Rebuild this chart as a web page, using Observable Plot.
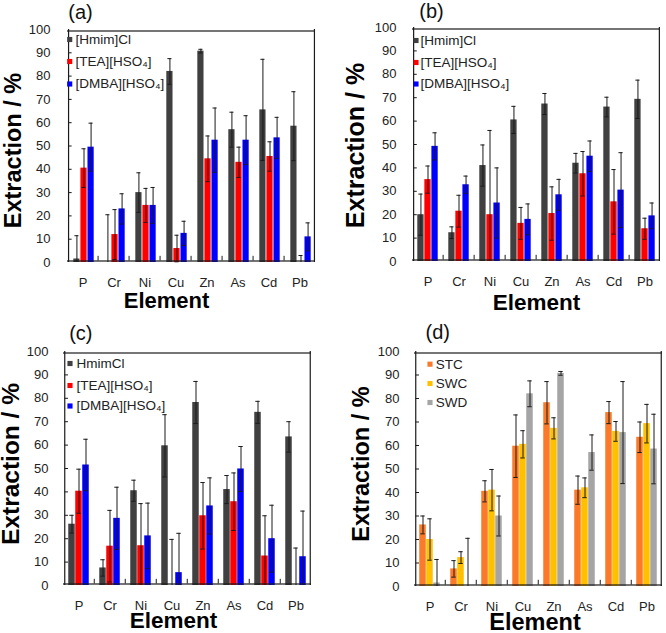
<!DOCTYPE html>
<html><head><meta charset="utf-8">
<script src="https://cdn.jsdelivr.net/npm/d3@7"></script>
<script src="https://cdn.jsdelivr.net/npm/@observablehq/plot@0.6"></script>
<style>
body{margin:0;background:#fff;}
#root{position:relative;width:666px;height:633px;overflow:hidden;font-family:"Liberation Sans",Arial,sans-serif;}
.panel{position:absolute;}
</style>
</head><body><div id="root"></div>
<script>
const elements = ["P","Cr","Ni","Cu","Zn","As","Cd","Pb"];
const yTicks = [0,10,20,30,40,50,60,70,80,90,100];
const yDomain = [0,100];

const ilSeries = ["[Hmim]Cl","[TEA][HSO₄]","[DMBA][HSO₄]"];
const ilSeriesC = ["HmimCl","[TEA][HSO₄]","[DMBA][HSO₄]"];
const soilSeries = ["STC","SWC","SWD"];
const ilColors = ["#404040","#ff0000","#0000ff"];
const soilColors = ["#fb7a2a","#ffc000","#a5a5a5"];

// (a)
const aHmim = [1.5,0,30,82,90.7,57,65.5,58.5];
const aHmimErr = [10,20.5,8.5,5.5,0.8,7.5,21.7,14.8];
const aTea = [40.5,12,24.5,6,44.5,43,45.5,0];
const aTeaErr = [8.3,10.7,7.3,5.7,9.8,6.5,6.3,3];
const aDmba = [49.5,23,24.5,12.5,52.5,52.5,53.5,11];
const aDmbaErr = [10.3,6.5,7.7,5.2,13.8,10.5,8.8,6];
// (b)
const bHmim = [20,12.3,41,60.5,67.3,42,66,69.3];
const bHmimErr = [8.8,2.5,8.8,5.8,4.5,4.2,4.2,8.2];
const bTea = [35,21.5,20,16.3,20.5,37.5,25.5,14];
const bTeaErr = [5.8,6.8,36,6.8,11.4,9.5,13.8,4.5];
const bDmba = [49.2,32.8,25,18,28.5,45,30.5,19.5];
const bDmbaErr = [5.8,3.7,15,6.6,6.6,6.5,16,5.5];
// (c)
const cHmim = [26.2,7.5,40.5,59.7,78.2,41,74,63.5];
const cHmimErr = [3.8,3.5,4.5,13.3,9,6,4.7,6.5];
const cTea = [40.3,16.8,17,0,29.8,35.8,12.6,0];
const cTeaErr = [9.4,15.3,18,19.7,14.2,12.3,17.2,16];
const cDmba = [51.5,28.7,21.2,5.5,34,49.8,20,12.3];
const cDmbaErr = [11,13.3,14,16.8,12,9.6,14.3,19.5];
// (d)
const dStc = cHmim, dStcErr = cHmimErr;
const dSwc = bHmim, dSwcErr = bHmimErr;
const dSwd = aHmim, dSwdErr = aHmimErr;

function makePanel(cfg){
  const [mt, mr, mb, ml] = cfg.m;
  const frameW = cfg.w - ml - mr;
  const bw = frameW / elements.length;
  const barW = bw / 4.5;
  const barInset = (bw - barW) / 2;
  const capInset = (bw - barW * 0.7) / 2;
  const lo = d => Math.max(0, d.value - d.err);
  const hi = d => Math.min(100, d.value + d.err);
  const first = elements[0], last = elements[elements.length - 1];
  const ink = "#1a1a1a";
  const k = 1.5; // keep box lines just inside the plotting area
  const marks = [];
  cfg.series.forEach((s,i)=>{
    const rows = elements.map((e,j)=>({element:e, series:s, value:cfg.values[i][j], err:cfg.errs[i][j]}));
    const dx = (i - 1) * barW + (cfg.shift || 0);
    marks.push(Plot.barY(rows, {x:"element", y:"value", fill:cfg.colors[i], insetLeft:barInset, insetRight:barInset, dx}));
    marks.push(Plot.ruleX(rows, {x:"element", y1:lo, y2:hi, dx, stroke:ink, strokeWidth:1}));
    marks.push(Plot.tickY(rows, {x:"element", y:hi, dx, insetLeft:capInset, insetRight:capInset, stroke:ink, strokeWidth:1}));
    marks.push(Plot.tickY(rows.filter(d=>d.value-d.err>0), {x:"element", y:lo, dx, insetLeft:capInset, insetRight:capInset, stroke:ink, strokeWidth:1}));
  });
  // plot box from the scales
  const bottomRows = elements.map(e=>({element:e, y:yDomain[0]}));
  const topRows = elements.map(e=>({element:e, y:yDomain[1]}));
  marks.push(Plot.tickY(bottomRows, {x:"element", y:"y", dy:-k, stroke:ink, strokeWidth:1.2}));
  marks.push(Plot.tickY(topRows, {x:"element", y:"y", dy:k, stroke:ink, strokeWidth:1.2}));
  marks.push(Plot.ruleX([{element:first, y1:yDomain[0], y2:yDomain[1]}], {x:"element", y1:"y1", y2:"y2", dx:-bw/2 + k, stroke:ink, strokeWidth:1.2}));
  marks.push(Plot.ruleX([{element:last, y1:yDomain[0], y2:yDomain[1]}], {x:"element", y1:"y1", y2:"y2", dx:bw/2 - k, stroke:ink, strokeWidth:1.2}));
  // inward ticks on the y axis and at category boundaries
  marks.push(Plot.tickY(yTicks.slice(1,-1).map(t=>({element:first, y:t})), {x:"element", y:"y", insetLeft:k, insetRight:bw - 4 - k, stroke:ink, strokeWidth:1}));
  marks.push(Plot.ruleX(elements.slice(1).map(e=>({element:e, y1:0, y2:2})), {x:"element", y1:"y1", y2:"y2", dx:-bw/2, dy:-k, stroke:ink, strokeWidth:1}));
  marks.push(Plot.axisY({ticks:yTicks, tickSize:0, tickPadding:13, label:null, fontSize:13, fill:"#222"}));
  marks.push(Plot.axisX({tickSize:0, tickPadding:15, label:null, fontSize:13, fill:"#222"}));
  cfg.series.forEach((s,i)=>{
    marks.push(Plot.dot([s], {frameAnchor:"top-left", dx:cfg.legSq, dy:cfg.legDy[i], symbol:"square", r:2.9, fill:cfg.colors[i], stroke:"none"}));
    marks.push(Plot.text([s], {frameAnchor:"top-left", dx:cfg.legTx, dy:cfg.legDy[i], text:d=>d, textAnchor:"start", lineAnchor:"middle", fontSize:13.5, fill:"#222"}));
  });
  marks.push(Plot.text([cfg.title], {frameAnchor:"top-left", dx:cfg.titlePos[0], dy:cfg.titlePos[1], text:d=>d, textAnchor:"middle", lineAnchor:"middle", fontSize:20, fill:"#111"}));
  marks.push(Plot.text(["Extraction / %"], {frameAnchor:"left", dx:cfg.yLab[0], dy:cfg.yLab[1], rotate:-90, text:d=>d, textAnchor:"middle", lineAnchor:"middle", fontSize:cfg.yLab[2], fontWeight:"bold", fill:"#000"}));
  marks.push(Plot.text(["Element"], {frameAnchor:"bottom", dx:cfg.xLab[0], dy:cfg.xLab[1], text:d=>d, textAnchor:"middle", lineAnchor:"middle", fontSize:cfg.xLab[2], fontWeight:"bold", fill:"#000"}));

  const plot = Plot.plot({
    width: cfg.w, height: cfg.h,
    marginLeft: ml, marginRight: mr, marginTop: mt, marginBottom: mb,
    style: {fontFamily:'"Liberation Sans", Arial, sans-serif', fontSize:"13px", color:"#222", background:"transparent", overflow:"visible"},
    x: {domain: elements, padding: 0},
    y: {domain: yDomain},
    marks
  });
  const div = document.createElement("div");
  div.className = "panel";
  div.style.left = cfg.left + "px";
  div.style.top = cfg.top + "px";
  div.appendChild(plot);
  document.getElementById("root").appendChild(div);
}

makePanel({left:0, top:0, w:333, h:310, m:[29,15,48,63], series:ilSeries, colors:ilColors,
  values:[aHmim,aTea,aDmba], errs:[aHmimErr,aTeaErr,aDmbaErr], shift:1,
  legSq:6.2, legTx:12, legDy:[10,32,54.5], title:"(a)", titlePos:[17,-17],
  yLab:[-50.5,4.5,23.5], xLab:[-24.5,38.5,22]});
makePanel({left:333, top:0, w:333, h:310, m:[27,3,49,76], series:ilSeries, colors:ilColors,
  values:[bHmim,bTea,bDmba], errs:[bHmimErr,bTeaErr,bDmbaErr], shift:0,
  legSq:6.5, legTx:11, legDy:[13,35,56.5], title:"(b)", titlePos:[22,-16],
  yLab:[-53.5,1,25], xLab:[0,41,22.5]});
makePanel({left:0, top:310, w:333, h:323, m:[41,20,48,61], series:ilSeriesC, colors:ilColors,
  values:[cHmim,cTea,cDmba], errs:[cHmimErr,cTeaErr,cDmbaErr], shift:0,
  legSq:8.5, legTx:15, legDy:[12,34,54.5], title:"(c)", titlePos:[19.3,-18],
  yLab:[-50.7,-4.5,24.5], xLab:[-14,35,22.5]});
makePanel({left:333, top:310, w:333, h:323, m:[41,2,47,79], series:soilSeries, colors:soilColors,
  values:[dStc,dSwc,dSwd], errs:[dStcErr,dSwcErr,dSwdErr], shift:0,
  legSq:17.5, legTx:23.3, legDy:[12.7,32,51], title:"(d)", titlePos:[25.3,-19],
  yLab:[-51,-5,23.5], xLab:[-3.5,36,23.5]});
</script></body></html>
